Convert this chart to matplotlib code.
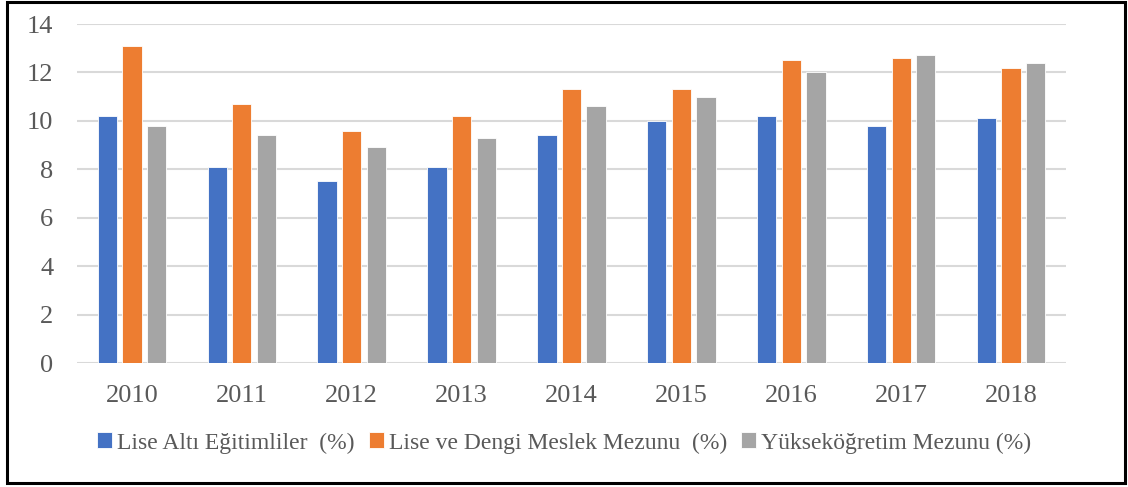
import numpy as np
import matplotlib.pyplot as plt
from matplotlib.patches import Rectangle

years = ["2010", "2011", "2012", "2013", "2014", "2015", "2016", "2017", "2018"]
lise_alti = [10.2, 8.1, 7.5, 8.1, 9.4, 10.0, 10.2, 9.8, 10.1]
lise_dengi = [13.1, 10.7, 9.6, 10.2, 11.3, 11.3, 12.5, 12.6, 12.2]
yuksek = [9.8, 9.4, 8.9, 9.3, 10.6, 11.0, 12.0, 12.7, 12.4]
labels = ["Lise Altı Eğitimliler  (%)", "Lise ve Dengi Meslek Mezunu  (%)",
          "Yükseköğretim Mezunu (%)"]
colors = ["#4472c4", "#ed7d31", "#a5a5a5"]

plt.rcParams['font.family'] = ['Liberation Serif', 'DejaVu Serif']

fig = plt.figure(figsize=(11.28, 4.87), dpi=100)
ax = fig.add_axes([77/1128, 1 - 363/487, (1066 - 77)/1128, 339/487])

x = np.arange(len(years))
w = 0.175
off = 0.224
for i, (vals, c, lab) in enumerate(zip([lise_alti, lise_dengi, yuksek], colors, labels)):
    ax.bar(x + (i - 1) * off, vals, w, color=c, label=lab, edgecolor='white',
           linewidth=0.6, zorder=3)

ax.set_xlim(-0.5, len(years) - 0.5)
ax.set_ylim(0, 14)
ax.set_yticks(range(0, 15, 2))
ax.set_xticks(x)
ax.set_xticklabels(years)
ax.yaxis.grid(True, color='#d9d9d9', linewidth=1.5, zorder=0)
for s in ax.spines.values():
    s.set_visible(False)
ax.tick_params(length=0, labelsize=19, colors='#595959')
ax.tick_params(axis='x', pad=16)
ax.tick_params(axis='y', pad=17)

ax.legend(loc='center', bbox_to_anchor=(0.5, 1 - 443/487), bbox_transform=fig.transFigure,
          ncol=3, frameon=False, fontsize=17, labelcolor='#595959',
          handlelength=0.65, handleheight=0.65, handletextpad=0.2, columnspacing=0.6)

fig.patches.append(Rectangle((7/1128, 1 - 483/487), (1125 - 7)/1128, (483 - 2)/487,
                             transform=fig.transFigure, fill=False,
                             edgecolor='black', linewidth=2.2))

fig.savefig("out.png", dpi=100)
